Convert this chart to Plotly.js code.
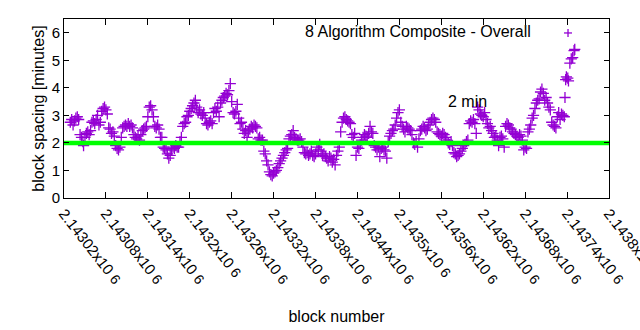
<!DOCTYPE html>
<html>
<head>
<meta charset="utf-8">
<script src="https://cdn.plot.ly/plotly-3.0.1.min.js"></script>
<style>html,body{margin:0;padding:0;background:#fff;}#chart{width:640px;height:330px;}</style>
</head>
<body>
<div id="chart"></div>
<script>
// Block numbers (x) and block spacing in minutes (y)
const blocks = [
2143029,2143031,2143033,2143035,2143037,2143039,2143041,2143043,2143045,2143047,2143048,2143050,2143052,2143054,2143056,2143058,
2143060,2143062,2143064,2143066,2143068,2143070,2143072,2143074,2143076,2143078,2143080,2143082,2143084,2143086,2143088,2143090,
2143092,2143094,2143096,2143098,2143100,2143102,2143104,2143106,2143108,2143110,2143112,2143114,2143116,2143118,2143120,2143122,
2143124,2143126,2143128,2143130,2143132,2143134,2143136,2143138,2143140,2143142,2143144,2143146,2143148,2143150,2143152,2143154,
2143156,2143158,2143160,2143162,2143164,2143166,2143168,2143170,2143172,2143174,2143176,2143178,2143180,2143182,2143184,2143186,
2143188,2143190,2143192,2143194,2143196,2143198,2143200,2143202,2143204,2143206,2143208,2143210,2143212,2143214,2143216,2143218,
2143220,2143222,2143224,2143226,2143228,2143230,2143232,2143234,2143236,2143238,2143240,2143242,2143244,2143246,2143248,2143250,
2143252,2143254,2143256,2143258,2143260,2143262,2143264,2143266,2143268,2143270,2143272,2143274,2143276,2143278,2143280,2143282,
2143284,2143286,2143288,2143290,2143292,2143294,2143296,2143298,2143300,2143302,2143304,2143306,2143308,2143310,2143312,2143314,
2143316,2143318,2143320,2143322,2143324,2143326,2143328,2143330,2143332,2143334,2143336,2143338,2143340,2143342,2143344,2143346,
2143348,2143350,2143352,2143354,2143356,2143358,2143360,2143362,2143364,2143366,2143368,2143370,2143372,2143374,2143376,2143378,
2143380,2143382,2143384,2143386,2143388,2143390,2143392,2143394,2143396,2143398,2143400,2143402,2143404,2143406,2143408,2143410,
2143412,2143414,2143416,2143418,2143420,2143422,2143424,2143426,2143428,2143430,2143432,2143434,2143436,2143438,2143440,2143442,
2143444,2143446,2143448,2143450,2143452,2143454,2143456,2143458,2143460,2143462,2143464,2143466,2143468,2143470,2143472,2143474,
2143476,2143478,2143480,2143482,2143484,2143486,2143488,2143490,2143492,2143494,2143496,2143498,2143500,2143502,2143504,2143506,
2143508,2143510,2143512,2143514,2143516,2143518,2143520,2143522,2143524,2143526,2143528,2143530,2143532,2143534,2143536,2143538,
2143540,2143542,2143544,2143546,2143548,2143550,2143552,2143554,2143556,2143558,2143560,2143562,2143564,2143566,2143568,2143570,
2143572,2143574,2143576,2143578,2143580,2143582,2143584,2143586,2143588,2143590,2143592,2143594,2143596,2143598,2143600,2143602,
2143604,2143606,2143608,2143610,2143612,2143614,2143616,2143618,2143620,2143622,2143624,2143626,2143628,2143630,2143632,2143634,
2143636,2143638,2143640,2143642,2143644,2143646,2143648,2143650,2143652,2143654,2143656,2143658,2143660,2143662,2143664,2143666,
2143668,2143670,2143672,2143674,2143676,2143678,2143680,2143682,2143684,2143686,2143688,2143690,2143692,2143694,2143696,2143698,
2143700,2143702,2143704,2143706,2143708,2143710,2143712,2143714,2143716,2143718,2143720,2143722,2143724,2143726,2143728,2143730,
2143732,2143734,2143736,2143737,2143738,2143739,2143741,2143742,2143744,2143746,2143748,2143750,2143751
];
const spacing = [
2.75,2.85,2.65,2.8,2.9,2.95,2.85,2.3,2.2,2.05,1.9,2.2,2.35,2.4,2.3,2.45,
2.75,2.8,2.7,2.85,3.0,2.65,2.75,3.15,3.25,3.3,3.2,3.05,2.55,2.5,2.35,2.4,
2.25,1.9,1.8,1.75,1.85,2.2,2.55,2.6,2.65,2.6,2.7,2.6,2.65,2.55,2.3,2.2,
2.15,2.25,2.1,2.3,2.45,2.5,2.55,2.6,2.95,3.3,3.35,3.2,2.95,2.6,2.55,2.65,
2.5,2.2,2.2,1.85,1.8,1.75,1.6,1.45,1.55,1.75,1.85,1.8,1.9,1.85,1.85,2.05,
2.2,2.6,2.7,2.75,2.95,3.0,3.15,3.25,3.35,3.45,3.55,3.3,3.1,3.2,3.05,3.0,
3.1,2.9,2.7,2.65,2.75,2.8,2.7,3.1,3.25,3.15,3.3,2.95,3.45,3.55,3.65,3.7,
3.8,3.75,3.9,4.15,3.5,3.1,3.05,3.15,3.4,2.9,2.7,2.75,2.5,2.35,2.45,2.2,
2.4,2.5,2.6,2.55,2.65,2.6,2.55,2.15,2.2,2.1,2.1,1.7,1.6,1.35,1.2,0.95,
0.85,0.8,0.9,0.95,1.0,1.1,1.25,1.35,1.45,1.55,1.65,1.75,1.8,2.15,2.25,2.3,
2.45,2.2,2.15,2.1,2.1,2.15,2.05,1.85,1.65,1.6,1.65,1.55,1.6,1.7,1.55,1.5,
1.6,1.85,1.75,1.95,1.7,1.55,1.6,1.5,1.45,1.35,1.5,1.45,1.3,1.4,1.2,1.55,
1.7,1.85,2.4,2.75,2.9,2.95,2.85,2.8,2.75,2.7,2.3,2.2,2.35,1.55,1.85,1.8,
1.95,2.1,2.2,2.3,2.25,2.2,2.35,2.6,2.4,2.35,1.9,1.85,1.75,1.85,1.5,1.8,
1.85,1.75,1.7,1.45,2.05,2.25,2.35,2.45,2.5,2.65,2.9,3.1,3.2,2.75,2.6,2.5,
2.4,2.6,2.55,2.5,2.45,2.3,2.0,1.95,2.05,1.85,2.15,2.45,2.5,2.6,2.55,2.45,
2.5,2.65,2.75,2.85,2.9,2.85,2.75,2.4,2.35,2.3,2.25,2.35,2.3,2.2,2.1,2.0,
1.95,2.05,1.9,1.65,1.6,1.5,1.55,1.6,1.7,1.8,1.9,1.95,2.05,2.1,2.7,2.8,
2.75,2.85,2.7,2.35,3.3,3.2,3.05,3.0,2.95,3.1,2.85,2.7,2.55,2.6,2.45,2.35,
2.2,2.25,2.1,1.9,2.2,2.25,2.15,1.85,2.6,2.7,2.65,2.55,2.5,2.4,2.35,2.3,
2.25,2.2,2.3,2.25,2.1,1.75,1.85,1.8,2.4,2.5,2.65,2.9,3.0,3.25,3.45,3.55,
3.6,3.85,3.95,3.8,3.55,3.65,3.45,3.3,3.2,2.75,2.65,2.6,2.55,2.95,3.1,2.85,
3.05,3.0,2.95,3.65,4.3,4.4,4.35,4.25,4.9,5.05,5.1,5.35,5.4
];
// "2 min" reference line
const minBlocks = [2143020, 2143800];
const minSpacing = [2, 2];
// Axis ticks
const tickVals = [2143020,2143080,2143140,2143200,2143260,2143320,2143380,2143440,2143500,2143560,2143620,2143680,2143740,2143800];
const tickMant = ['2.14302','2.14308','2.14314','2.1432','2.14326','2.14332','2.14338','2.14344','2.1435','2.14356','2.14362','2.14368','2.14374','2.1438'];
const seriesName = '8 Algorithm Composite - Overall';

const PURPLE = '#9400d3';
const FONT = 'Liberation Sans, Arial, sans-serif';

const traces = [
  {
    x: blocks, y: spacing, type: 'scatter', mode: 'markers', name: seriesName,
    marker: {symbol: 'cross-thin', size: 8, color: PURPLE, line: {color: PURPLE, width: 1.3}},
    hoverinfo: 'skip', cliponaxis: true
  },
  {
    x: minBlocks, y: minSpacing, type: 'scatter', mode: 'lines', name: '2 min',
    line: {color: '#00ff00', width: 4.5}, hoverinfo: 'skip'
  }
];

const axisCommon = {
  showline: true, linecolor: '#000', linewidth: 1, mirror: 'allticks',
  ticks: 'inside', tickcolor: '#000', ticklen: 6, tickwidth: 1,
  showgrid: false, zeroline: false,
  tickfont: {family: FONT, size: 15, color: '#000'}
};

const layout = {
  width: 640, height: 330,
  margin: {l: 64, r: 31, t: 19, b: 132},
  paper_bgcolor: '#fff', plot_bgcolor: '#fff',
  showlegend: false,
  font: {family: FONT, size: 16, color: '#000'},
  xaxis: Object.assign({}, axisCommon, {
    range: [2143020, 2143800],
    tickmode: 'array', tickvals: tickVals,
    ticktext: tickMant.map(m => m + 'x10 <span style="font-size:14px">6</span>'),
    tickangle: 52, ticklabeloverflow: 'allow',
    title: {text: 'block number', font: {family: FONT, size: 16, color: '#000'}, standoff: 24}
  }),
  yaxis: Object.assign({}, axisCommon, {
    range: [0, 6.5], tickmode: 'array', tickvals: [0,1,2,3,4,5,6],
    ticklen: 5,
    title: {text: 'block spacing [minutes]', font: {family: FONT, size: 16, color: '#000'}, standoff: 3}
  }),
  annotations: [
    {text: seriesName, xref: 'paper', yref: 'paper', x: 0.8606, y: 0.9275,
     xanchor: 'right', yanchor: 'middle', showarrow: false,
     font: {family: FONT, size: 16, color: '#000'}},
    {text: '2 min', xref: 'paper', yref: 'paper', x: 0.741, y: 0.537,
     xanchor: 'center', yanchor: 'middle', showarrow: false,
     font: {family: FONT, size: 16, color: '#000'}}
  ],
  shapes: [
    {type: 'line', xref: 'paper', yref: 'paper', xsizemode: 'pixel', ysizemode: 'pixel',
     xanchor: 0.9248, yanchor: 0.922, x0: -4, x1: 4, y0: 0, y1: 0, line: {color: PURPLE, width: 1.3}},
    {type: 'line', xref: 'paper', yref: 'paper', xsizemode: 'pixel', ysizemode: 'pixel',
     xanchor: 0.9248, yanchor: 0.922, x0: 0, x1: 0, y0: -4, y1: 4, line: {color: PURPLE, width: 1.3}}
  ]
};

Plotly.newPlot('chart', traces, layout, {staticPlot: true, displayModeBar: false});
</script>
</body>
</html>
